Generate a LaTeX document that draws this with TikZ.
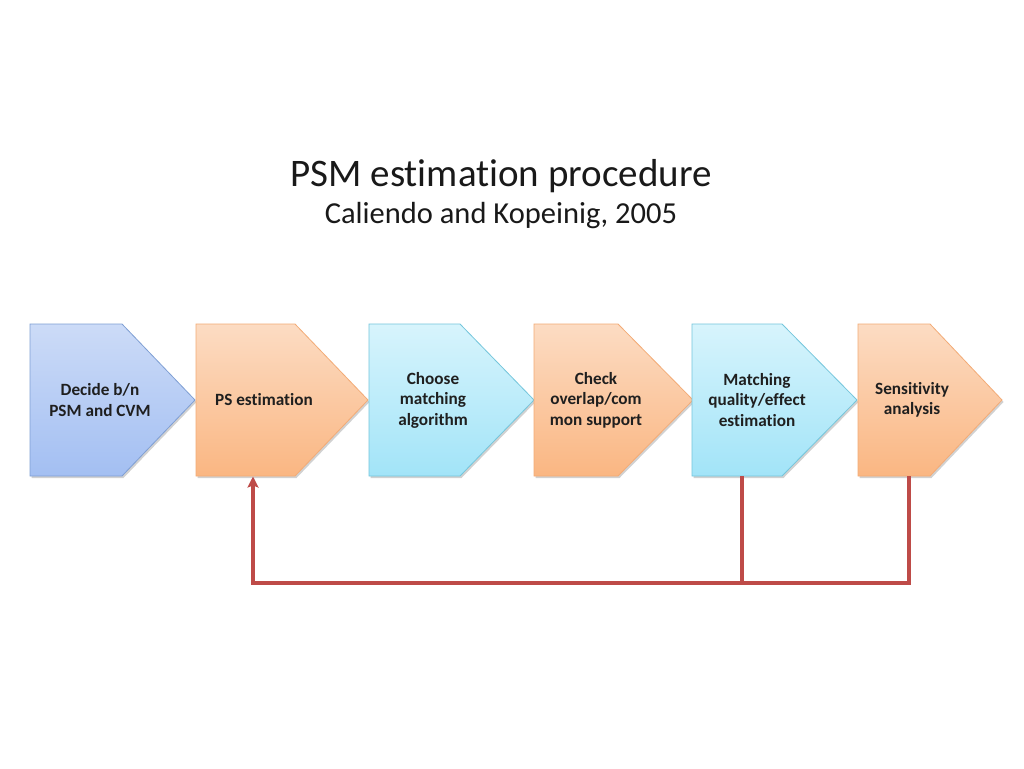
\documentclass[tikz,border=0pt]{standalone}
\usepackage{fontspec}
\setmainfont{Carlito}[Ligatures={NoCommon}]
\usetikzlibrary{arrows.meta}
\definecolor{bluetop}{HTML}{CCDBF7}
\definecolor{bluebot}{HTML}{A3BFF2}
\definecolor{blueline}{HTML}{7F9FD4}
\definecolor{orgtop}{HTML}{FCDCC3}
\definecolor{orgbot}{HTML}{FAB682}
\definecolor{orgline}{HTML}{F3AB76}
\definecolor{cyntop}{HTML}{D7F4FC}
\definecolor{cynbot}{HTML}{A2E4F8}
\definecolor{cynline}{HTML}{74C6DC}
\definecolor{fbred}{HTML}{BE4B48}
\tikzset{
  chevshadow/.style={fill=black!18},
  bluechev/.style={top color=bluetop, bottom color=bluebot, draw=blueline, line width=0.8pt, line join=miter},
  orgchev/.style={top color=orgtop, bottom color=orgbot, draw=orgline, line width=0.8pt, line join=miter},
  cynchev/.style={top color=cyntop, bottom color=cynbot, draw=cynline, line width=0.8pt, line join=miter},
  lbl/.style={font=\fontsize{17.2}{20.5}\selectfont\bfseries, align=center, text=black!88, inner sep=0pt},
  fb/.style={draw=fbred, line width=3.2pt},
}
\newcommand{\chevpath}[3]{(#1,324) -- (#2,324) -- (#3,400) -- (#2,476) -- (#1,476) -- cycle}
\begin{document}
\begin{tikzpicture}[x=1pt,y=-1pt]
\useasboundingbox (0,0) rectangle (1024,768);
\fill[white] (0,0) rectangle (1024,768);
% title
\node[font=\fontsize{39}{44}\selectfont, text=black!90, inner sep=0pt] (title) at (501,176) {PSM estimation procedure};
\node[font=\fontsize{30.5}{34}\selectfont, text=black!90, inner sep=0pt] (subtitle) at (501,216) {Caliendo and Kopeinig, 2005};
% shadows
\foreach \l/\f/\t in {30/122/195,196/295/368,369/460/534,534/618/693,692/782/857,858/930/1002}{
  \fill[chevshadow] [shift={(1.5,2)}] \chevpath{\l}{\f}{\t};
}
% chevrons
\path[bluechev] \chevpath{30}{122}{195};
\path[orgchev] \chevpath{196}{295}{368};
\path[cynchev] \chevpath{369}{460}{534};
\path[orgchev] \chevpath{534}{618}{693};
\path[cynchev] \chevpath{692}{782}{857};
\path[orgchev] \chevpath{858}{930}{1002};
% labels
\node[lbl] (t1) at (100,400) {Decide b/n\\PSM and CVM};
\node[lbl] (t2) at (264,400) {PS estimation};
\node[lbl] (t3) at (433,400) {Choose\\matching\\algorithm};
\node[lbl] (t4) at (596,400) {Check\\overlap/com\\mon support};
\node[lbl] (t5) at (757,400) {Matching\\quality/effect\\estimation};
\node[lbl] (t6) at (912,400) {Sensitivity\\analysis};
% feedback connector
\coordinate (s2) at (253,476.5);
\coordinate (s5) at (742,476);
\coordinate (s6) at (909,476);
\coordinate (c2) at (253,583);
\coordinate (j5) at (742,583);
\coordinate (c6) at (909,583);
\draw[fb] (s5) -- (j5);
\draw[fb, line join=miter, -{Stealth[length=11pt,width=11pt,inset=2pt]}] (s6) -- (c6) -- (c2) -- (s2);
\end{tikzpicture}
\end{document}
